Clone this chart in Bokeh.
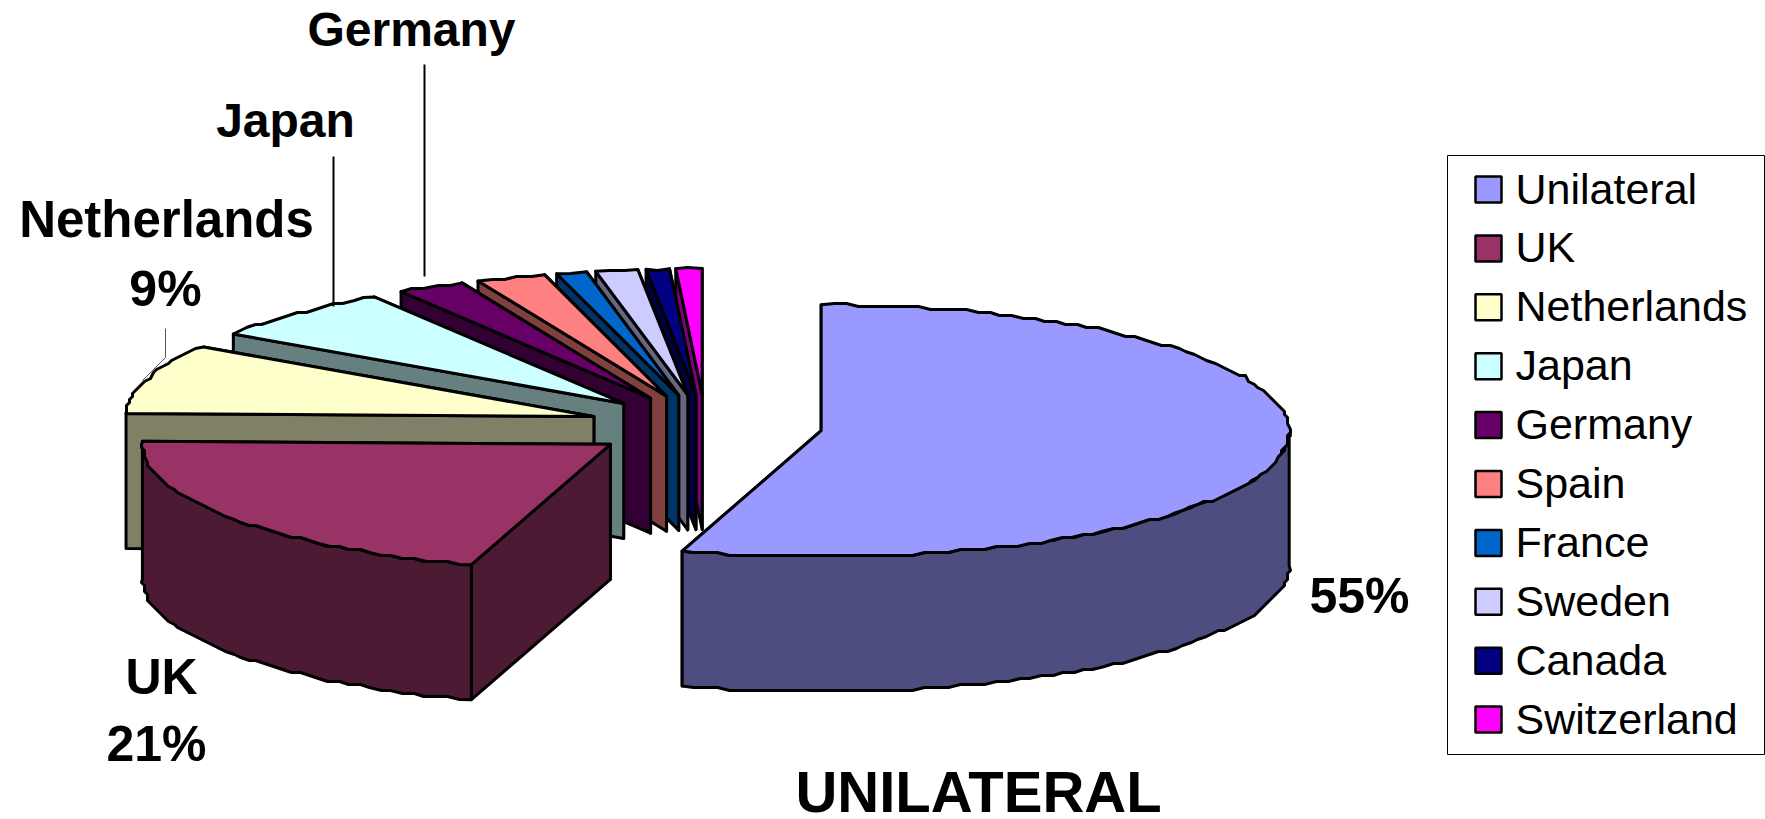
import math
from bokeh.plotting import figure
from bokeh.models import Range1d, ColumnDataSource
from bokeh.core.properties import value
from bokeh.embed import file_html
from bokeh.resources import INLINE

categories = ["Unilateral", "UK", "Netherlands", "Japan", "Germany", "Spain", "France", "Sweden", "Canada", "Switzerland"]
shares = [54.8, 20.6, 8.9, 6.75, 2.35, 2.4, 1.05, 1.45, 0.8, 0.9]
top_colors = ["#9999FF", "#993366", "#FFFFCC", "#CCFFFF", "#660066", "#FF8080", "#0066CC", "#CCCCFF", "#000080", "#FF00FF"]
side_colors = ["#4D4D80", "#4D1A33", "#808066", "#668080", "#330033", "#804040", "#003366", "#666680", "#000040", "#800080"]
label_texts = ["Germany", "Japan", "Netherlands", "9%", "UK", "21%", "55%"]

CX, CY, RX, RY, DEPTH, EXPLODE, GRID = 705.0, 425.5, 468.0, 126.0, 135.0, 117.0, 3.0
FONT = value("Liberation Sans")


def rim(cx, cy, deg):
    a = math.radians(deg)
    return cx + RX * math.sin(a), cy - RY * math.cos(a)


def arc(cx, cy, d0, d1):
    n = max(2, int(abs(d1 - d0) / 1.5))
    pts = []
    for i in range(n + 1):
        x, y = rim(cx, cy, d0 + (d1 - d0) * i / n)
        if 0 < i < n:
            x, y = round(x / GRID) * GRID, round(y / GRID) * GRID
        pts.append((x, y))
    return pts


total = sum(shares)
xs, ys, fills = [], [], []
start = 0.0
geom = []
for s in shares:
    end = start + s / total * 360
    geom.append((start, end))
    start = end


def add(points, color):
    xs.append([q[0] for q in points])
    ys.append([q[1] for q in points])
    fills.append(color)


# painter's order: furthest slice first
for i in range(len(shares) - 1, -1, -1):
    d0, d1 = geom[i]
    mid = math.radians((d0 + d1) / 2)
    cx = CX + EXPLODE * math.sin(mid)
    cy = CY - EXPLODE * RY / RX * math.cos(mid)
    e = rim(cx, cy, d1)
    add([(cx, cy), e, (e[0], e[1] + DEPTH), (cx, cy + DEPTH)], side_colors[i])
    b = rim(cx, cy, d0)
    add([(cx, cy), b, (b[0], b[1] + DEPTH), (cx, cy + DEPTH)], side_colors[i])
    w0, w1 = max(d0, 90.0), min(d1, 270.0)
    if w1 > w0:
        front = arc(cx, cy, w0, w1)
        add(front + [(q[0], q[1] + DEPTH) for q in reversed(front)], side_colors[i])
    add([(cx, cy)] + arc(cx, cy, d0, d1), top_colors[i])

p = figure(width=1765, height=819, x_range=Range1d(0, 1765), y_range=Range1d(819, 0),
           output_backend="svg", toolbar_location=None, min_border=0,
           x_axis_type=None, y_axis_type=None, outline_line_color=None, background_fill_color="white")
p.grid.visible = False

p.patches("xs", "ys", source=ColumnDataSource(dict(xs=xs, ys=ys, fill=fills)), fill_color="fill",
          line_color="black", line_width=3, line_join="round")

# leader lines
p.line([424, 424], [64, 276], line_color="black", line_width=2)
p.line([333, 333], [156, 306], line_color="black", line_width=2)
p.line([165, 165, 142], [328, 357, 380], line_color="#555555", line_width=1)

# data labels
label_src = ColumnDataSource(dict(
    x=[411, 285, 166, 165, 161, 156, 1359],
    y=[29, 120, 219, 288, 676, 743, 595],
    text=label_texts,
    size=["48px", "48px", "51px", "50px", "50px", "50px", "50px"],
))
p.text("x", "y", text="text", source=label_src, text_font=FONT, text_font_style="bold", text_font_size="size",
       text_align="center", text_baseline="middle", text_color="black")
p.text([978], [791], text=["UNILATERAL"], text_font=FONT, text_font_style="bold", text_font_size="58px",
       text_align="center", text_baseline="middle", text_color="black")

# legend
p.quad(left=[1447], right=[1764], top=[155], bottom=[754], fill_color="white", line_color="black", line_width=1)
row_y = [189 + 58.9 * i for i in range(len(categories))]
p.quad(left=[1475] * 10, right=[1501] * 10, top=[y - 13 for y in row_y], bottom=[y + 13 for y in row_y],
       fill_color=top_colors, line_color="black", line_width=2.5)
p.text([1515] * 10, [y - 1 for y in row_y], text=categories, text_font=FONT, text_font_size="43px",
       text_align="left", text_baseline="middle", text_color="black")

open("out.html", "w").write(file_html(p, INLINE))
